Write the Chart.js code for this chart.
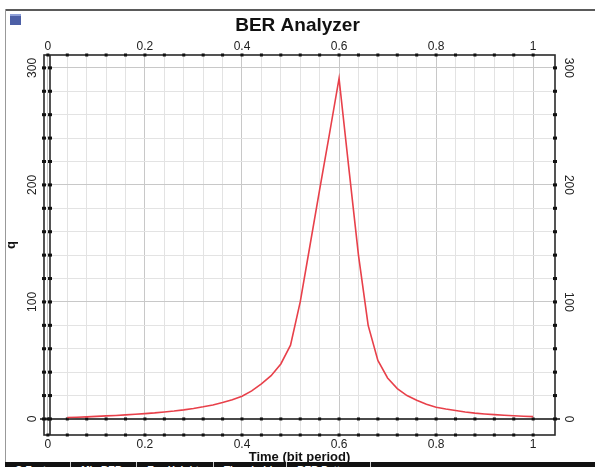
<!DOCTYPE html>
<html><head><meta charset="utf-8">
<script src="https://cdn.jsdelivr.net/npm/chart.js@4.4.1/dist/chart.umd.min.js"></script>
<style>
html,body{margin:0;padding:0;background:#fff;width:595px;height:467px;overflow:hidden;}
canvas{position:absolute;left:0;top:0;}
.topbar{position:absolute;left:5px;top:9px;width:590px;height:2px;background:#5a5a5a;}
.leftbar{position:absolute;left:5px;top:9px;width:1px;height:455px;background:#999;}
.icon{position:absolute;left:10px;top:14px;width:11px;height:11px;background:#4c5fa6;border-top:2px solid #8fa0d8;box-sizing:border-box;}
.tabs{position:absolute;left:5px;top:462px;width:590px;height:5px;background:#111;overflow:hidden;font:bold 10px "Liberation Sans",Arial,sans-serif;color:#fff;white-space:nowrap;}
.tabs span{display:inline-block;padding:3px 14px 0 10px;border-right:1px solid #ccc;line-height:12px;}
</style>
</head>
<body>
<canvas id="c" width="595" height="467"></canvas>
<div class="topbar"></div>
<div class="leftbar"></div>
<div class="icon"></div>
<div class="tabs"><span>Q Factor</span><span>Min BER</span><span>Eye Height</span><span>Threshold</span><span>BER Pattern</span></div>
<script>
// ---- data ----
const timeValues = [0.04,0.06,0.08,0.10,0.12,0.14,0.16,0.18,0.20,0.22,0.24,0.26,0.28,0.30,0.32,0.34,0.36,0.38,0.40,0.42,0.44,0.46,0.48,0.50,0.52,0.54,0.56,0.58,0.60,0.62,0.64,0.66,0.68,0.70,0.72,0.74,0.76,0.78,0.80,0.82,0.84,0.86,0.88,0.90,0.92,0.94,0.96,0.98,1.00];
const qValues = [1.2,1.5,1.8,2.2,2.6,3.0,3.5,4.0,4.6,5.2,6.0,6.8,7.8,9.0,10.4,12.0,14.0,16.5,19.5,24,30,37,47,63,100,148,196,243,291,215,140,80,50,35,26,20,16,12.5,10,8.5,7.2,6.0,5.0,4.3,3.7,3.2,2.7,2.3,2.0];
const xTickLabels = ['0','0.2','0.4','0.6','0.8','1'];
const yTickLabels = ['0','100','200','300'];
const xMinorStep = 0.04;
const yMinorStep = 20;

const FONT = '"Liberation Sans", Arial, sans-serif';

function xTicks(scale){
  const t=[]; for(let k=0;k<=25;k++){ t.push({value:+(k*xMinorStep).toFixed(4)}); } scale.ticks=t;
}
function yTicks(scale){
  const t=[]; for(let k=0;k<=15;k++){ t.push({value:k*yMinorStep}); } scale.ticks=t;
}
function labelFor(list, v){
  const f = list.find(l => Math.abs(Number(l)-v) < 1e-6);
  return f === undefined ? '' : f;
}
function isMajorX(v){ return xTickLabels.some(l=>Math.abs(Number(l)-v)<1e-6); }
function isMajorY(v){ return yTickLabels.some(l=>Math.abs(Number(l)-v)<1e-6); }

const framePlugin = {
  id:'frame',
  beforeDatasetsDraw(chart){
    const {ctx, chartArea:a, scales} = chart;
    const xs = scales.x, ys = scales.y;
    const y0 = ys.getPixelForValue(0);
    const xi = a.left + 6;
    ctx.save();
    const line=(x1,y1,x2,y2)=>{ctx.beginPath();ctx.moveTo(x1,y1);ctx.lineTo(x2,y2);ctx.stroke();};
    ctx.strokeStyle='#4a4a4a'; ctx.lineWidth=2;
    line(a.left-4, y0, a.right+5, y0);
    ctx.strokeStyle='#2a2a2a'; ctx.lineWidth=1.6;
    ctx.strokeRect(a.left, a.top, a.right-a.left, a.bottom-a.top);
    line(xi, a.top, xi, a.bottom);
    ctx.fillStyle='#111';
    xs.ticks.forEach(t=>{
      const px = xs.getPixelForValue(t.value);
      [a.top, a.bottom, y0].forEach(py=>ctx.fillRect(px-1.5, py-1.5, 3, 3));
    });
    ys.ticks.forEach(t=>{
      const py = ys.getPixelForValue(t.value);
      [a.left, xi, a.right].forEach(px=>ctx.fillRect(px-2, py-1.5, 4, 3));
    });
    ctx.restore();
  }
};

const tickFont = {family:FONT, size:12};
new Chart(document.getElementById('c'), {
  type:'line',
  data:{ datasets:[{
    data: timeValues.map((t,i)=>({x:t, y:qValues[i]})),
    borderColor:'#e8404a', borderWidth:1.6, pointRadius:0, tension:0, fill:false
  }]},
  options:{
    responsive:false, animation:false, devicePixelRatio:1,
    layout:{padding:0},
    plugins:{
      legend:{display:false}, tooltip:{enabled:false},
      title:{display:true, text:'BER Analyzer', color:'#111',
        font:{family:FONT, size:19, weight:'bold'}, padding:{top:14,bottom:0}}
    },
    scales:{
      x:{type:'linear', position:'bottom', min:-0.008, max:1.045,
        afterBuildTicks:xTicks, afterFit:s=>{s.height=32;},
        border:{display:false},
        grid:{drawTicks:false, lineWidth:1, color:c=>isMajorX(c.tick.value)?'#c8c8c8':'#e3e3e3'},
        ticks:{padding:2, font:tickFont, color:'#222', autoSkip:false, maxRotation:0,
          callback:v=>labelFor(xTickLabels,v)},
        title:{display:true, text:'Time (bit period)', color:'#111',
          font:{family:FONT, size:13, weight:'bold'}, padding:{top:0,bottom:2}}
      },
      x2:{type:'linear', position:'top', min:-0.008, max:1.045,
        afterBuildTicks:xTicks, afterFit:s=>{s.height=18.2;},
        border:{display:false},
        grid:{display:false, drawTicks:false},
        ticks:{padding:1, font:tickFont, color:'#222', autoSkip:false, maxRotation:0,
          callback:v=>labelFor(xTickLabels,v)}
      },
      y:{type:'linear', position:'left', min:-13.7, max:311,
        afterBuildTicks:yTicks, afterFit:s=>{s.width=44;},
        border:{display:false},
        grid:{drawTicks:false, lineWidth:1, color:c=>isMajorY(c.tick.value)?'#c8c8c8':'#e3e3e3'},
        ticks:{padding:1, font:tickFont, color:'#222', autoSkip:false, minRotation:90, maxRotation:90, crossAlign:'center',
          callback:v=>labelFor(yTickLabels,v)},
        title:{display:true, text:'q', color:'#111',
          font:{family:FONT, size:13, weight:'bold'}, padding:{top:4,bottom:0}}
      },
      y2:{type:'linear', position:'right', min:-13.7, max:311,
        afterBuildTicks:yTicks, afterFit:s=>{s.width=40;},
        border:{display:false},
        grid:{display:false, drawTicks:false},
        ticks:{padding:3, font:tickFont, color:'#222', autoSkip:false, minRotation:-90, maxRotation:-90, crossAlign:'center',
          callback:v=>labelFor(yTickLabels,v)}
      }
    }
  },
  plugins:[framePlugin]
});
</script>
</body></html>
